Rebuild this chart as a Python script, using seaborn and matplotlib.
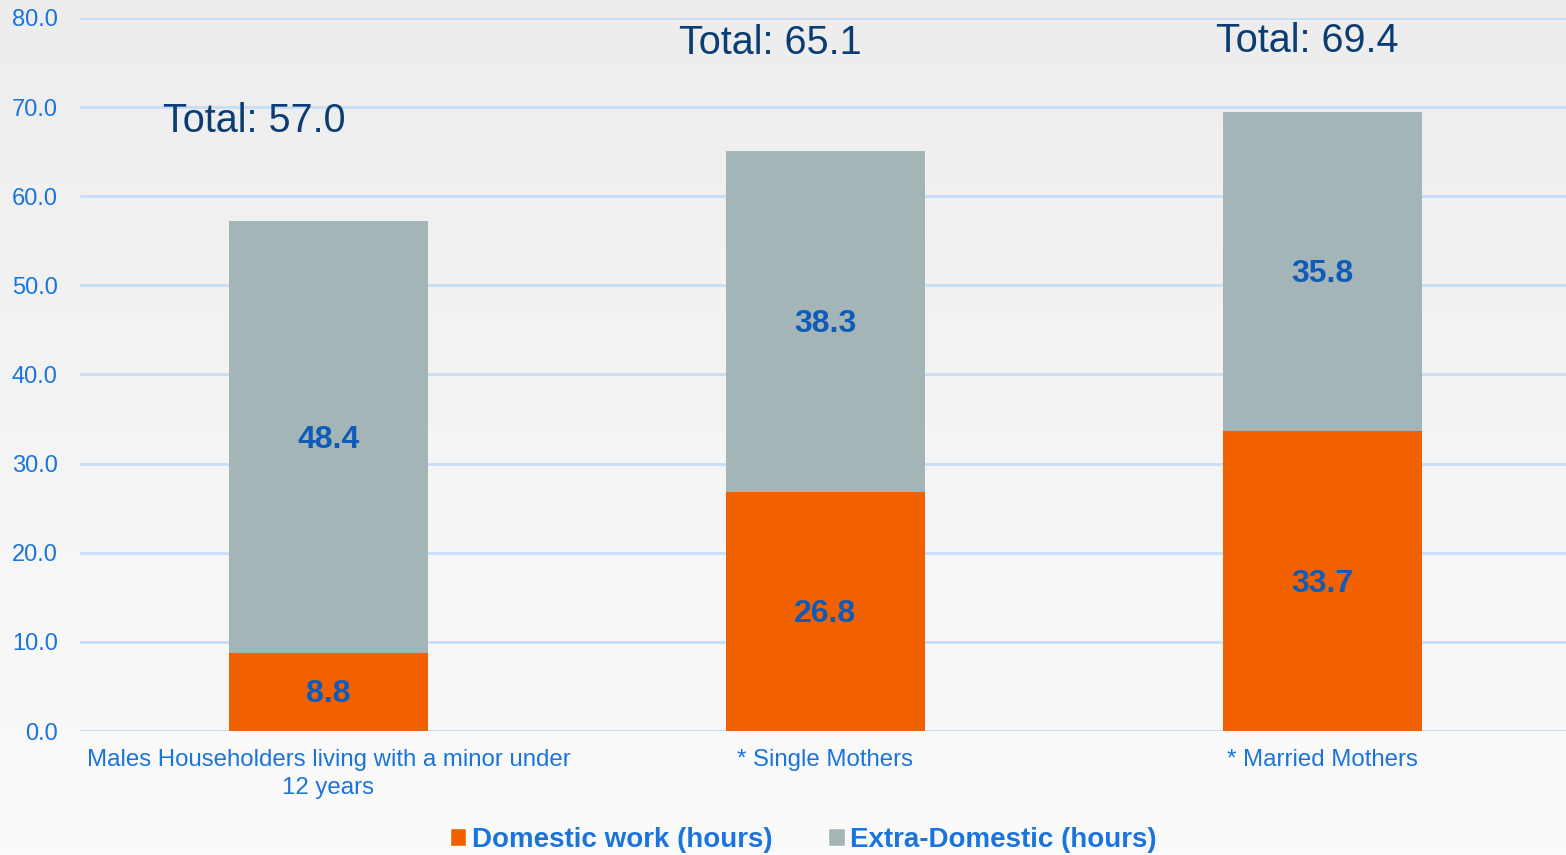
import numpy as np
import pandas as pd
import matplotlib.pyplot as plt
import seaborn as sns
from matplotlib.patches import Patch

# Chart data
categories = ['Males Householders living with a minor under\n12 years', '* Single Mothers', '* Married Mothers']
domestic = [8.8, 26.8, 33.7]
extra_domestic = [48.4, 38.3, 35.8]
totals = ['Total: 57.0', 'Total: 65.1', 'Total: 69.4']

orange = '#f26100'
grey = '#a3b5b7'
tick_blue = '#1a74dc'
label_blue = '#0f5cb8'
navy = '#0b3c73'

sns.set_theme(style='white')
plt.rcParams['font.family'] = ['Liberation Sans', 'DejaVu Sans']

df = pd.DataFrame({'category': categories, 'domestic': domestic, 'extra': extra_domestic})
df['stack'] = df['domestic'] + df['extra']

fig = plt.figure(figsize=(15.66, 8.55), dpi=100)

# soft grey gradient background
bg = fig.add_axes([0, 0, 1, 1], zorder=-10)
grad = np.linspace(0, 1, 256).reshape(-1, 1)
bg.imshow(grad, aspect='auto', cmap=plt.matplotlib.colors.LinearSegmentedColormap.from_list('bg', ['#ededed', '#fbfbfb']), extent=[0, 1, 0, 1], origin='upper')
bg.axis('off')

ax = fig.add_axes([0.051, 0.145, 0.949, 0.834])
ax.patch.set_alpha(0)

sns.barplot(data=df, x='category', y='stack', color=grey, width=0.4, saturation=1, ax=ax, zorder=3, edgecolor='none', linewidth=0)
sns.barplot(data=df, x='category', y='domestic', color=orange, width=0.4, saturation=1, ax=ax, zorder=3, edgecolor='none', linewidth=0)

for i, (d, e) in enumerate(zip(domestic, extra_domestic)):
    ax.text(i, d / 2 - 0.3, f'{d:.1f}', ha='center', va='center', fontsize=23, fontweight='bold', color=label_blue, zorder=5)
    ax.text(i, d + e / 2 - 0.3, f'{e:.1f}', ha='center', va='center', fontsize=23, fontweight='bold', color=label_blue, zorder=5)

# total labels, placed as in the original slide
total_x = [-0.149, 0.889, 1.97]
total_y = [68.4, 77.2, 77.4]
for tx, ty, t in zip(total_x, total_y, totals):
    ax.text(tx, ty, t, ha='center', va='center', fontsize=28.5, color=navy, zorder=6)

ax.set_ylim(0, 80)
ax.set_xlim(-0.5, 2.49)
ax.set_yticks(np.arange(0, 81, 10))
ax.set_yticklabels([f'{v:.1f}' for v in np.arange(0, 81, 10)])
ax.yaxis.grid(True, color='#c6def6', linewidth=2, zorder=0)
ax.set_axisbelow(True)
for s in ax.spines.values():
    s.set_visible(False)
ax.set_xlabel('')
ax.set_ylabel('')
ax.tick_params(axis='y', labelsize=17, labelcolor=tick_blue, length=0, pad=16)
ax.tick_params(axis='x', labelsize=17.3, labelcolor=tick_blue, length=0, pad=13)
for lbl in ax.get_xticklabels():
    lbl.set_linespacing(1.35)

handles = [Patch(facecolor=orange, label='Domestic work (hours)'),
           Patch(facecolor=grey, label='Extra-Domestic (hours)')]
leg = fig.legend(handles=handles, loc='center', bbox_to_anchor=(0.513, 0.018), ncol=2, frameon=False,
                 prop={'size': 20, 'weight': 'bold'}, handlelength=0.6, handleheight=0.6,
                 handletextpad=0.2, columnspacing=2.0)
for t in leg.get_texts():
    t.set_color(tick_blue)

fig.savefig('out.png', dpi=100)
